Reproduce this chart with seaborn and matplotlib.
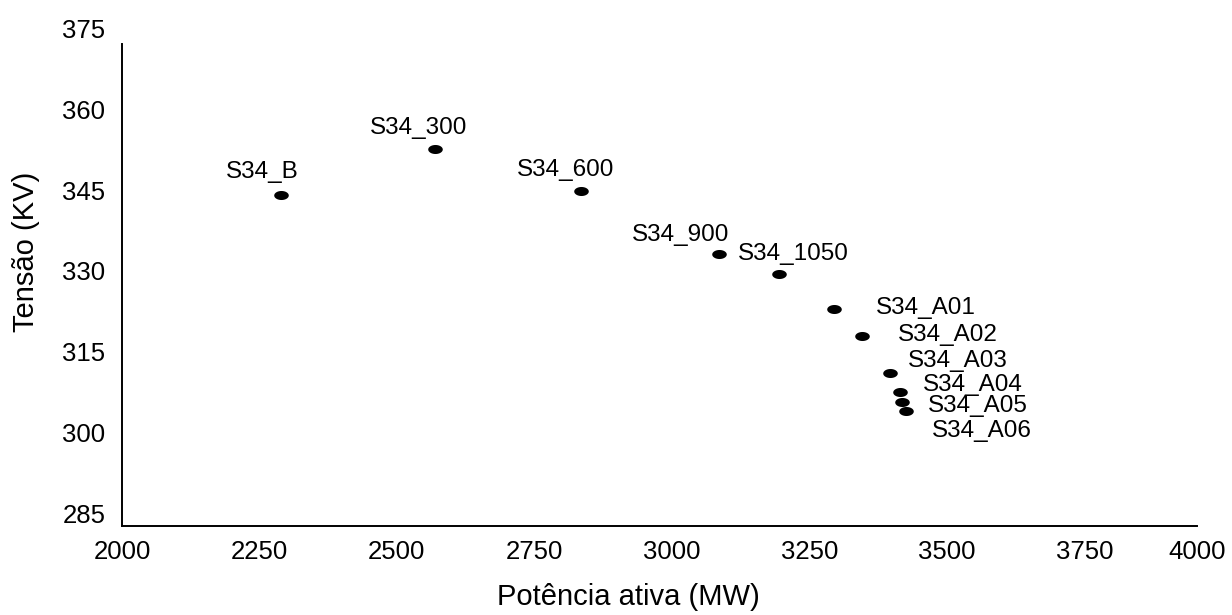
# -*- coding: utf-8 -*-

"""
Tensão x potência ativa para os casos S34.
"""

import numpy as np
import pandas as pd
import matplotlib
matplotlib.use("Agg")
import matplotlib.pyplot as plt
from matplotlib.path import Path
import seaborn as sns

# Data.
casos = ["S34_B", "S34_300", "S34_600", "S34_900", "S34_1050",
         "S34_A01", "S34_A02", "S34_A03", "S34_A04", "S34_A05", "S34_A06"]
potencia = [2290, 2570, 2834, 3085, 3195, 3294, 3346, 3397, 3414, 3418, 3426]
tensao = [344.1, 352.7, 344.8, 333.1, 329.4, 323.0, 318.0, 311.1, 307.6,
          305.7, 304.1]

# Tick labels.
x_ticks = [2000, 2250, 2500, 2750, 3000, 3250, 3500, 3750, 4000]
y_ticks = [285, 300, 315, 330, 345, 360, 375]

# Label offsets (pixels) for each point.
offsets = [(-19, 23), (-17, 21), (-15, 21), (-38, 19), (14, 20),
           (92, 1), (86, 1), (68, 12), (73, 7), (76, -4), (76, -20)]

df = pd.DataFrame({"caso": casos, "potencia": potencia, "tensao": tensao})

# Style.
sns.set_style("white")
plt.rcParams["font.family"] = ["Liberation Sans", "DejaVu Sans"]
plt.rcParams["text.color"] = "black"
plt.rcParams["axes.labelcolor"] = "black"

# Flat ellipse marker.
t = np.linspace(0, 2 * np.pi, 60)
ellipse = Path(np.column_stack([np.cos(t), 0.62 * np.sin(t)]), closed=True)

# Initialize the figure.
f = plt.figure(figsize=(12.32, 6.15), dpi=100)
ax = f.add_axes([0.099, 0.1447, 0.8726, 0.8163])

# Plot.
sns.scatterplot(data=df, x="potencia", y="tensao", marker=ellipse, s=110,
                color="black", linewidth=0, ax=ax)

for nome, x, y, off in zip(casos, potencia, tensao, offsets):
    ax.annotate(nome, (x, y), xytext=off, textcoords="offset pixels",
                ha="center", va="center", fontsize=17.5, color="black")

# Axis limits (the drawn axis stops a little short of the last labels).
x_end = 3955
ax.set_xlim(2000, x_end)
ax.set_ylim(282.7, 375.8)

ax.set_xticks([min(v, x_end) for v in x_ticks])
ax.set_xticklabels([str(v) for v in x_ticks])
ax.set_yticks(y_ticks)
ax.set_yticklabels([str(v) for v in y_ticks])

ax.tick_params(axis="both", length=0, labelsize=18.5, colors="black")
ax.tick_params(axis="x", pad=10)
ax.tick_params(axis="y", pad=12)

# Spines.
sns.despine(ax=ax)
for side in ["left", "bottom"]:
    ax.spines[side].set_color("black")
    ax.spines[side].set_linewidth(1.4)
ax.spines["left"].set_bounds(282.7, 372.1)

# Labels.
ax.set_xlabel("Potência ativa (MW)", fontsize=21)
ax.set_ylabel("Tensão (KV)", fontsize=21)
ax.xaxis.set_label_coords(0.471, -0.141)
ax.yaxis.set_label_coords(-0.089, 0.546)
ax.xaxis.label.set_va("center")
ax.yaxis.label.set_va("center")

plt.savefig("out.png", dpi=100)
